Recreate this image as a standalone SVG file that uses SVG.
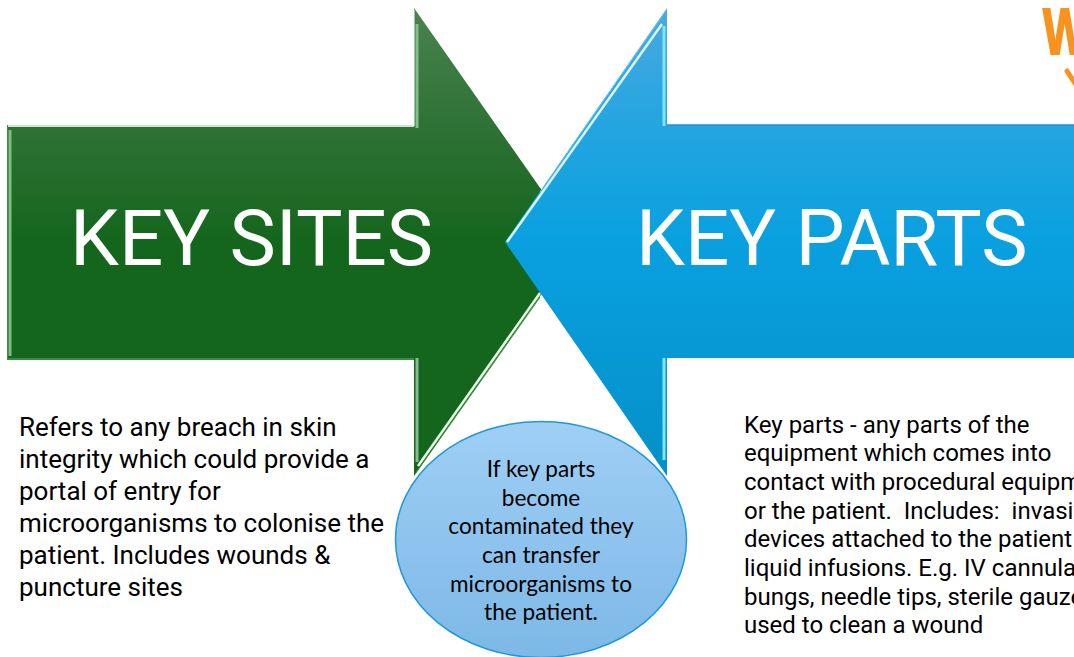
<svg xmlns="http://www.w3.org/2000/svg" width="1074" height="657" viewBox="0 0 1074 657">
<defs>
<linearGradient id="gg" gradientUnits="userSpaceOnUse" x1="0" y1="8" x2="0" y2="476"><stop offset="0" stop-color="#4a8350"/><stop offset="0.25" stop-color="#2f7236"/><stop offset="0.5" stop-color="#14661c"/><stop offset="1" stop-color="#14661c"/></linearGradient>
<linearGradient id="bg" gradientUnits="userSpaceOnUse" x1="0" y1="8" x2="0" y2="476"><stop offset="0" stop-color="#4aa9e0"/><stop offset="0.25" stop-color="#24a5e0"/><stop offset="0.5" stop-color="#09a0e0"/><stop offset="1" stop-color="#0490c8"/></linearGradient>
<linearGradient id="eg" x1="0" y1="0" x2="0" y2="1"><stop offset="0" stop-color="#9fcff5"/><stop offset="1" stop-color="#7db8e6"/></linearGradient>
<style>
.big{font-family:Roboto,"Liberation Sans",sans-serif;font-size:78px;fill:#fff}
.body{font-family:Roboto,"Liberation Sans",sans-serif;fill:#000}
.el{font-family:Lato,"Noto Sans",sans-serif;font-size:22.6px;fill:#000;text-anchor:middle}
</style>
</defs>
<g id="logo-fragment">
<text x="1043" y="54" font-family="'Liberation Sans',sans-serif" font-weight="700" font-size="64" fill="#f7931e" stroke="#f7931e" stroke-width="2" transform="translate(1043 0) scale(0.72 1) translate(-1043 0)">W</text>
<path d="M1067 71 L1076 85" fill="none" stroke="#f7931e" stroke-width="5" stroke-linecap="round"/>
</g>
<g id="key-sites">
<path d="M7 125H414V8L578 242L414 476V360H7Z" fill="url(#gg)"/>
<path d="M8 126H414" fill="none" stroke="#cfe6cf" stroke-width="2"/>
<path d="M7.500 125V360" fill="none" stroke="#3f8a47" stroke-width="1"/>
<path d="M10 130V356" fill="none" stroke="#7cc07f" stroke-width="3"/>
<path d="M414.500 126V10" fill="none" stroke="#9cc8a0" stroke-width="1"/>
<path d="M417 128V24" fill="none" stroke="#86bd8d" stroke-width="3"/>
<path d="M418 466L540 293" fill="none" stroke="#e8f6e8" stroke-width="2.500"/>
<path d="M415 474L540 297" fill="none" stroke="#3f8a47" stroke-width="1.200"/>
<path d="M417 358V462" fill="none" stroke="#86bd8d" stroke-width="3"/>
<path d="M7 359H414" fill="none" stroke="#3f8a47" stroke-width="2"/>
<text class="big" x="70" y="265">KEY SITES</text>
</g>
<g id="key-parts">
<path d="M1080 125H667V8L505 242L667 476V358H1080Z" fill="url(#bg)"/>
<path d="M667 9L540 192" fill="none" stroke="#6cc6ee" stroke-width="1"/>
<path d="M662 24L507 242" fill="none" stroke="#d8f6ff" stroke-width="2.500"/>
<path d="M664 126V26M664 358V460" fill="none" stroke="#7fe6ff" stroke-width="3"/>
<path d="M667 125H1074" fill="none" stroke="#1c93d0" stroke-width="1.500"/>
<text class="big" x="636" y="265">KEY PARTS</text>
</g>
<g id="key-sites-note">
<text class="body" font-size="26"><tspan x="19" y="436">Refers to any breach in skin</tspan><tspan x="19" y="468">integrity which could provide a</tspan><tspan x="19" y="500">portal of entry for</tspan><tspan x="19" y="532">microorganisms to colonise the</tspan><tspan x="19" y="564">patient. Includes wounds &amp;</tspan><tspan x="19" y="596">puncture sites</tspan></text>
</g>
<g id="contamination-note">
<ellipse cx="541" cy="539.5" rx="145.500" ry="118" fill="url(#eg)" stroke="#1f9ad6" stroke-width="1.500"/>
<text class="el"><tspan x="541" y="477">If key parts</tspan><tspan x="541" y="506">become</tspan><tspan x="541" y="534">contaminated they</tspan><tspan x="541" y="563">can transfer</tspan><tspan x="541" y="592">microorganisms to</tspan><tspan x="541" y="620">the patient.</tspan></text>
</g>
<g id="key-parts-note">
<text class="body" font-size="24"><tspan x="744" y="433">Key parts - any parts of the</tspan><tspan x="744" y="461">equipment which comes into</tspan><tspan x="744" y="490">contact with procedural equipment</tspan><tspan x="744" y="519" xml:space="preserve">or the patient.  Includes:  invasive</tspan><tspan x="744" y="547">devices attached to the patient &amp;</tspan><tspan x="744" y="576">liquid infusions. E.g. IV cannulas,</tspan><tspan x="744" y="605">bungs, needle tips, sterile gauze</tspan><tspan x="744" y="633">used to clean a wound</tspan></text>
</g>
</svg>
